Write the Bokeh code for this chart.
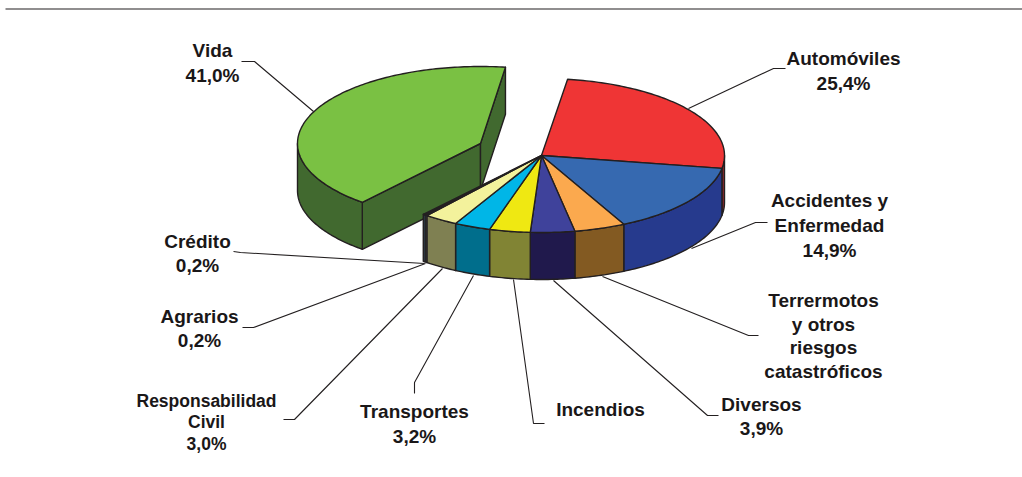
import math
from bokeh.plotting import figure
from bokeh.models import Range1d, ColumnDataSource
from bokeh.core.properties import value
from bokeh.embed import file_html
from bokeh.resources import INLINE

# ---- data
categories = ["Automóviles", "Accidentes y Enfermedad", "Terrermotos y otros riesgos catastróficos",
              "Diversos", "Incendios", "Transportes", "Responsabilidad Civil",
              "Agrarios", "Crédito", "Vida"]
shares = [25.4, 14.9, 4.5, 3.9, 3.6, 3.2, 3.0, 0.2, 0.2, 41.0]
top_colors = ["#EF3535", "#3669B0", "#FBA94E", "#3F429B", "#EFE812", "#00B6E7", "#F3F29C",
              "#2F6F8F", "#1F5F78", "#7AC143"]
side_colors = ["#8C2A2E", "#263A8D", "#835A22", "#20194C", "#818434", "#006E8C", "#7F8052",
               "#5A6A78", "#3A5F78", "#41692F"]

# ---- layout of the 3D pie in page pixels
CX, CY, RX, RY, DEPTH = 541, 155, 183, 77, 47
START = 8.2
EXPLODE = {"Vida": (-61, -12)}
INK = "#231F20"


def pt(t, dx=0, dy=0, dz=0):
    r = math.radians(t)
    return CX + dx + RX * math.sin(r), CY + dy - RY * math.cos(r) + dz


def arc(t0, t1, dx=0, dy=0, dz=0):
    n = max(2, int(abs(t1 - t0) / 1.0) + 2)
    return [pt(t0 + (t1 - t0) * i / (n - 1), dx, dy, dz) for i in range(n)]


spans = []
t = START
for c, s in zip(categories, shares):
    spans.append((c, t, t + s * 3.6))
    t += s * 3.6

back_xs, back_ys, back_c = [], [], []   # exploded slice, painted first
xs, ys, fill = [], [], []


def add(poly, col, exploded):
    X, Y, C = (back_xs, back_ys, back_c) if exploded else (xs, ys, fill)
    X.append([a for a, _ in poly])
    Y.append([b for _, b in poly])
    C.append(col)


# outer walls and cut walls
for (c, t0, t1), side in zip(spans, side_colors):
    dx, dy = EXPLODE.get(c, (0, 0))
    ex = c in EXPLODE
    if ex:
        a = (CX + dx, CY + dy)
        for tt in (t0, t1):
            e = pt(tt, dx, dy)
            add([a, e, (e[0], e[1] + DEPTH), (a[0], a[1] + DEPTH)], side, True)
    lo, hi = max(t0, 90), min(t1, 270)
    if lo < hi:
        add(arc(lo, hi, dx, dy) + arc(hi, lo, dx, dy, DEPTH), side, ex)
# top faces
for (c, t0, t1), top in zip(spans, top_colors):
    dx, dy = EXPLODE.get(c, (0, 0))
    add([(CX + dx, CY + dy)] + arc(t0, t1, dx, dy), top, c in EXPLODE)

p = figure(width=1022, height=477, output_backend="svg", toolbar_location=None,
           x_range=Range1d(0, 1022), y_range=Range1d(477, 0), min_border=0)
p.axis.visible = False
p.grid.visible = False
p.outline_line_color = None
p.background_fill_color = "white"

p.segment([5], [8.5], [1022], [8.5], line_color="#231F20", line_width=1.2)

# leader lines (page pixels), painted under the pie
leaders = [
    [(241, 61), (254, 61), (313, 111)],
    [(785, 68), (773, 68), (688, 108)],
    [(767, 222), (755, 222), (691, 248)],
    [(758, 335), (748, 335), (602, 276)],
    [(718, 415), (707, 415), (553, 280)],
    [(544, 423), (533, 423), (513, 279)],
    [(414, 393), (414, 382), (473, 275)],
    [(283, 419), (294, 419), (442, 268)],
    [(242, 327), (253, 327), (425, 263)],
    [(233, 251), (240, 252), (424, 263)],
]
p.multi_line([[q[0] for q in l] for l in leaders], [[q[1] for q in l] for l in leaders],
             line_color=INK, line_width=1.1)

p.patches("xs", "ys", fill_color="c", line_color=INK, line_width=1.4, line_join="round",
          source=ColumnDataSource(dict(xs=back_xs, ys=back_ys, c=back_c)))
p.patches("xs", "ys", fill_color="c", line_color=INK, line_width=1.4, line_join="round",
          source=ColumnDataSource(dict(xs=xs, ys=ys, c=fill)))

labels = [
    ("Vida", 212, 50, 19), ("41,0%", 212, 75, 19),
    ("Automóviles", 843, 58, 19), ("25,4%", 843, 83, 19),
    ("Accidentes y", 829, 200, 19), ("Enfermedad", 829, 225, 19), ("14,9%", 829, 250, 19),
    ("Terrermotos", 823, 300, 19), ("y otros", 823, 324, 19), ("riesgos", 823, 347, 19),
    ("catastróficos", 823, 371, 19),
    ("Diversos", 761, 404, 19), ("3,9%", 761, 428, 19),
    ("Incendios", 600, 409, 19),
    ("Transportes", 414, 411, 19), ("3,2%", 414, 436, 19),
    ("Responsabilidad", 206, 400, 17.5), ("Civil", 206, 421, 17.5), ("3,0%", 206, 443, 17.5),
    ("Agrarios", 199, 316, 19), ("0,2%", 199, 340, 19),
    ("Crédito", 197, 241, 19), ("0,2%", 197, 265, 19),
]
for s, x, y, fs in labels:
    p.text([x], [y], text=[s], text_font=value("Liberation Sans"), text_font_style="bold",
           text_font_size=f"{fs}px", text_align="center", text_baseline="middle",
           text_color="#1A1718")

open("out.html", "w").write(file_html(p, INLINE))
